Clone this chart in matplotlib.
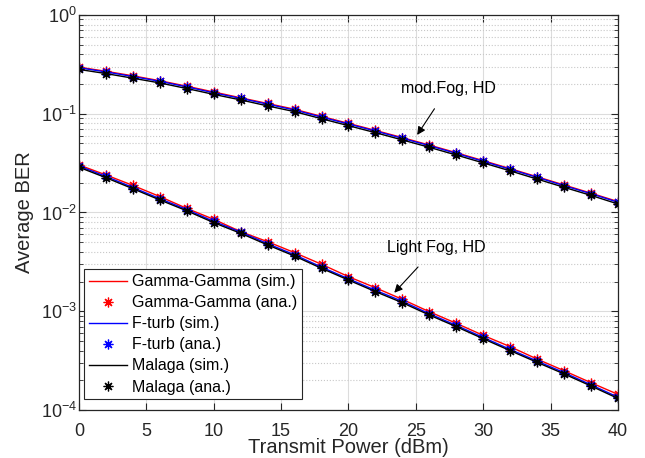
import numpy as np
import matplotlib.pyplot as plt
from matplotlib.ticker import LogLocator, NullFormatter, MultipleLocator

plt.rcParams['font.family'] = ['Liberation Sans', 'DejaVu Sans']
plt.rcParams['font.size'] = 12
plt.rcParams['mathtext.fontset'] = 'custom'
plt.rcParams['mathtext.rm'] = 'Liberation Sans'

# transmit power (dBm)
p_tx = np.arange(0, 41, 2)

# mod. fog, HD
modfog_gg = [0.296, 0.269, 0.242, 0.216, 0.190, 0.166, 0.145, 0.127, 0.111, 0.0940, 0.0799,
             0.0678, 0.0573, 0.0482, 0.0403, 0.0335, 0.0278, 0.0230, 0.0190, 0.0157, 0.0129]
modfog_ft = [0.292, 0.265, 0.238, 0.213, 0.187, 0.163, 0.143, 0.125, 0.109, 0.0925, 0.0787,
             0.0668, 0.0564, 0.0475, 0.0397, 0.0330, 0.0274, 0.0227, 0.0187, 0.0155, 0.0127]
modfog_ml = [0.281, 0.255, 0.229, 0.205, 0.180, 0.157, 0.138, 0.120, 0.105, 0.0890, 0.0757,
             0.0643, 0.0543, 0.0457, 0.0382, 0.0318, 0.0264, 0.0218, 0.0180, 0.0149, 0.0122]

# light fog, HD
light_gg = [0.0303, 0.0240, 0.0188, 0.0145, 0.0110, 0.00853, 0.00640, 0.00506, 0.00392, 0.00299,
            0.00224, 0.00173, 0.00132, 0.000989, 0.000755, 0.000570, 0.000438, 0.000328,
            0.000250, 0.000189, 0.000144]
light_ft = [0.0295, 0.0232, 0.0179, 0.0138, 0.0107, 0.00813, 0.00633, 0.00483, 0.00373, 0.00280,
            0.00213, 0.00163, 0.00126, 0.000944, 0.000719, 0.000543, 0.000411, 0.000313,
            0.000239, 0.000180, 0.000135]
light_ml = [0.0287, 0.0225, 0.0174, 0.0134, 0.0104, 0.00789, 0.00615, 0.00469, 0.00362, 0.00272,
            0.00207, 0.00158, 0.00122, 0.000916, 0.000698, 0.000527, 0.000399, 0.000304,
            0.000232, 0.000175, 0.000131]

models = ['Gamma-Gamma', 'F-turb', 'Malaga']
colors = ['red', 'blue', 'black']
modfog = [modfog_gg, modfog_ft, modfog_ml]
light = [light_gg, light_ft, light_ml]

ast = (8, 2, 0)  # matlab-like asterisk

fig = plt.figure(figsize=(6.45, 4.58), dpi=100)
ax = fig.add_axes([0.1225, 0.1048, 0.8355, 0.8625])

for i, (name, c) in enumerate(zip(models, colors)):
    for k, data in enumerate([modfog[i], light[i]]):
        ax.plot(p_tx, data, '-', color=c, lw=1.0,
                label=name + ' (sim.)' if k == 0 else None)
        ax.plot(p_tx, data, ls='none', marker=ast, color=c, ms=7, mew=0.9,
                label=name + ' (ana.)' if k == 0 else None)

ax.set_yscale('log')
ax.set_xlim(0, 40)
ax.set_ylim(1e-4, 1)
ax.xaxis.set_major_locator(MultipleLocator(5))
ax.yaxis.set_major_locator(LogLocator(base=10, numticks=10))
ax.yaxis.set_minor_locator(LogLocator(base=10, subs=np.arange(2, 10), numticks=10))
ax.yaxis.set_minor_formatter(NullFormatter())

ax.grid(True, which='major', color='#dcdcdc', lw=0.8, ls='-')
ax.grid(True, which='minor', axis='y', color='#c8c8c8', lw=0.8, ls=':')
ax.set_axisbelow(True)

ax.tick_params(which='both', direction='in', top=True, right=True, colors='#262626',
               labelsize=13)
ax.tick_params(which='major', length=5)
ax.tick_params(which='minor', length=3)
ax.tick_params(axis='x', pad=9)
ax.tick_params(axis='y', pad=1.5)
for s in ax.spines.values():
    s.set_color('#262626')
    s.set_linewidth(0.9)

ax.set_xlabel('Transmit Power (dBm)', fontsize=14.5, color='#262626', labelpad=-1)
ax.set_ylabel('Average BER', fontsize=14.5, color='#262626', labelpad=5)

ax.annotate('mod.Fog, HD', xy=(25.1, 0.061), xytext=(27.4, 0.182),
            ha='center', va='center', fontsize=11.5,
            arrowprops=dict(arrowstyle='-|>', color='black', lw=0.8, mutation_scale=12,
                            shrinkA=9, shrinkB=0))
ax.annotate('Light Fog, HD', xy=(23.4, 0.00154), xytext=(26.5, 0.00442),
            ha='center', va='center', fontsize=11.5,
            arrowprops=dict(arrowstyle='-|>', color='black', lw=0.8, mutation_scale=12,
                            shrinkA=9, shrinkB=0))

leg = ax.legend(loc='lower left', bbox_to_anchor=(0.009, 0.027), borderaxespad=0,
                fontsize=11.5, fancybox=False, framealpha=1, edgecolor='#262626',
                handlelength=2.4, handletextpad=0.3, labelspacing=0.38, borderpad=0.3)
leg.get_frame().set_linewidth(0.8)

fig.savefig('out.png', dpi=100)
